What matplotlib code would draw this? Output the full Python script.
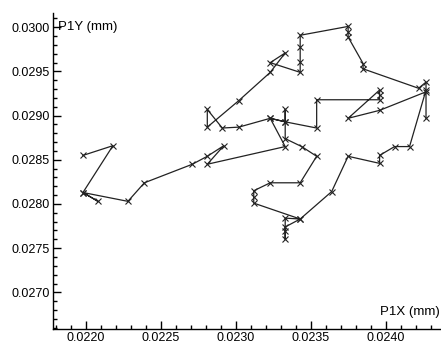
import matplotlib
matplotlib.use("Agg")
import matplotlib.pyplot as plt
from matplotlib.ticker import MultipleLocator, FormatStrFormatter

plt.rcParams['font.family'] = ['Liberation Sans', 'DejaVu Sans']

# Probe P1 trace, X/Y in mm (in the order they were recorded)
p1x = [0.02198, 0.02218, 0.02198, 0.02208, 0.02198, 0.02228, 0.02239, 0.02271,
       0.02281, 0.02292, 0.02281, 0.02333, 0.02323, 0.02302, 0.02291, 0.02281,
       0.02281, 0.02302, 0.02323, 0.02333, 0.02323, 0.02343, 0.02343, 0.02343,
       0.02343, 0.02375, 0.02375, 0.02375, 0.02385, 0.02385, 0.02422, 0.02427,
       0.02427, 0.02416, 0.02406, 0.02396, 0.02396, 0.02375, 0.02364, 0.02343,
       0.02333, 0.02333, 0.02333, 0.02333, 0.02343, 0.02312, 0.02312, 0.02312,
       0.02323, 0.02343, 0.02354, 0.02344, 0.02333, 0.02333, 0.02333, 0.02323,
       0.02333, 0.02354, 0.02354, 0.02396, 0.02396, 0.02396, 0.02375, 0.02396,
       0.02427, 0.02427]
p1y = [0.02855, 0.02866, 0.02813, 0.02803, 0.02813, 0.02803, 0.02824, 0.02845,
       0.02854, 0.02866, 0.02845, 0.02865, 0.02897, 0.02887, 0.02886, 0.02907,
       0.02887, 0.02917, 0.02949, 0.02971, 0.02960, 0.02949, 0.02961, 0.02978,
       0.02991, 0.03001, 0.02995, 0.02989, 0.02959, 0.02953, 0.02931, 0.02938,
       0.02929, 0.02865, 0.02865, 0.02855, 0.02846, 0.02854, 0.02814, 0.02783,
       0.02774, 0.02760, 0.02769, 0.02784, 0.02783, 0.02801, 0.02808, 0.02815,
       0.02824, 0.02824, 0.02854, 0.02865, 0.02874, 0.02907, 0.02893, 0.02897,
       0.02893, 0.02886, 0.02918, 0.02918, 0.02923, 0.02929, 0.02897, 0.02906,
       0.02927, 0.02897]

fig = plt.figure(figsize=(4.41, 3.42), dpi=100)
ax = fig.add_axes([53 / 441, 1 - 329 / 342, 1 - 53 / 441, (329 - 13) / 342])

ax.plot(p1x, p1y, color='#222222', lw=0.9, marker='x', ms=4, mew=0.8,
        mec='#222222')

ax.set_xlim(0.02178, 0.02437)
ax.set_ylim(0.026585, 0.030162)

ax.xaxis.set_major_locator(MultipleLocator(0.0005))
ax.xaxis.set_minor_locator(MultipleLocator(0.0001))
ax.yaxis.set_major_locator(MultipleLocator(0.0005))
ax.yaxis.set_minor_locator(MultipleLocator(0.0001))
ax.xaxis.set_major_formatter(FormatStrFormatter('%.4f'))
ax.yaxis.set_major_formatter(FormatStrFormatter('%.4f'))

ax.tick_params(which='both', direction='in', labelsize=9, colors='black')
ax.tick_params(which='major', length=6, width=1, pad=2.5)
ax.tick_params(which='minor', length=3, width=1)

for side in ('top', 'right'):
    ax.spines[side].set_visible(False)
for side in ('left', 'bottom'):
    ax.spines[side].set_linewidth(1)

ax.text(0.012, 0.975, 'P1Y (mm)', transform=ax.transAxes, fontsize=9.5,
        ha='left', va='top')
ax.text(0.998, 0.035, 'P1X (mm)', transform=ax.transAxes, fontsize=9.5,
        ha='right', va='bottom')

fig.savefig('out.png', dpi=100)
